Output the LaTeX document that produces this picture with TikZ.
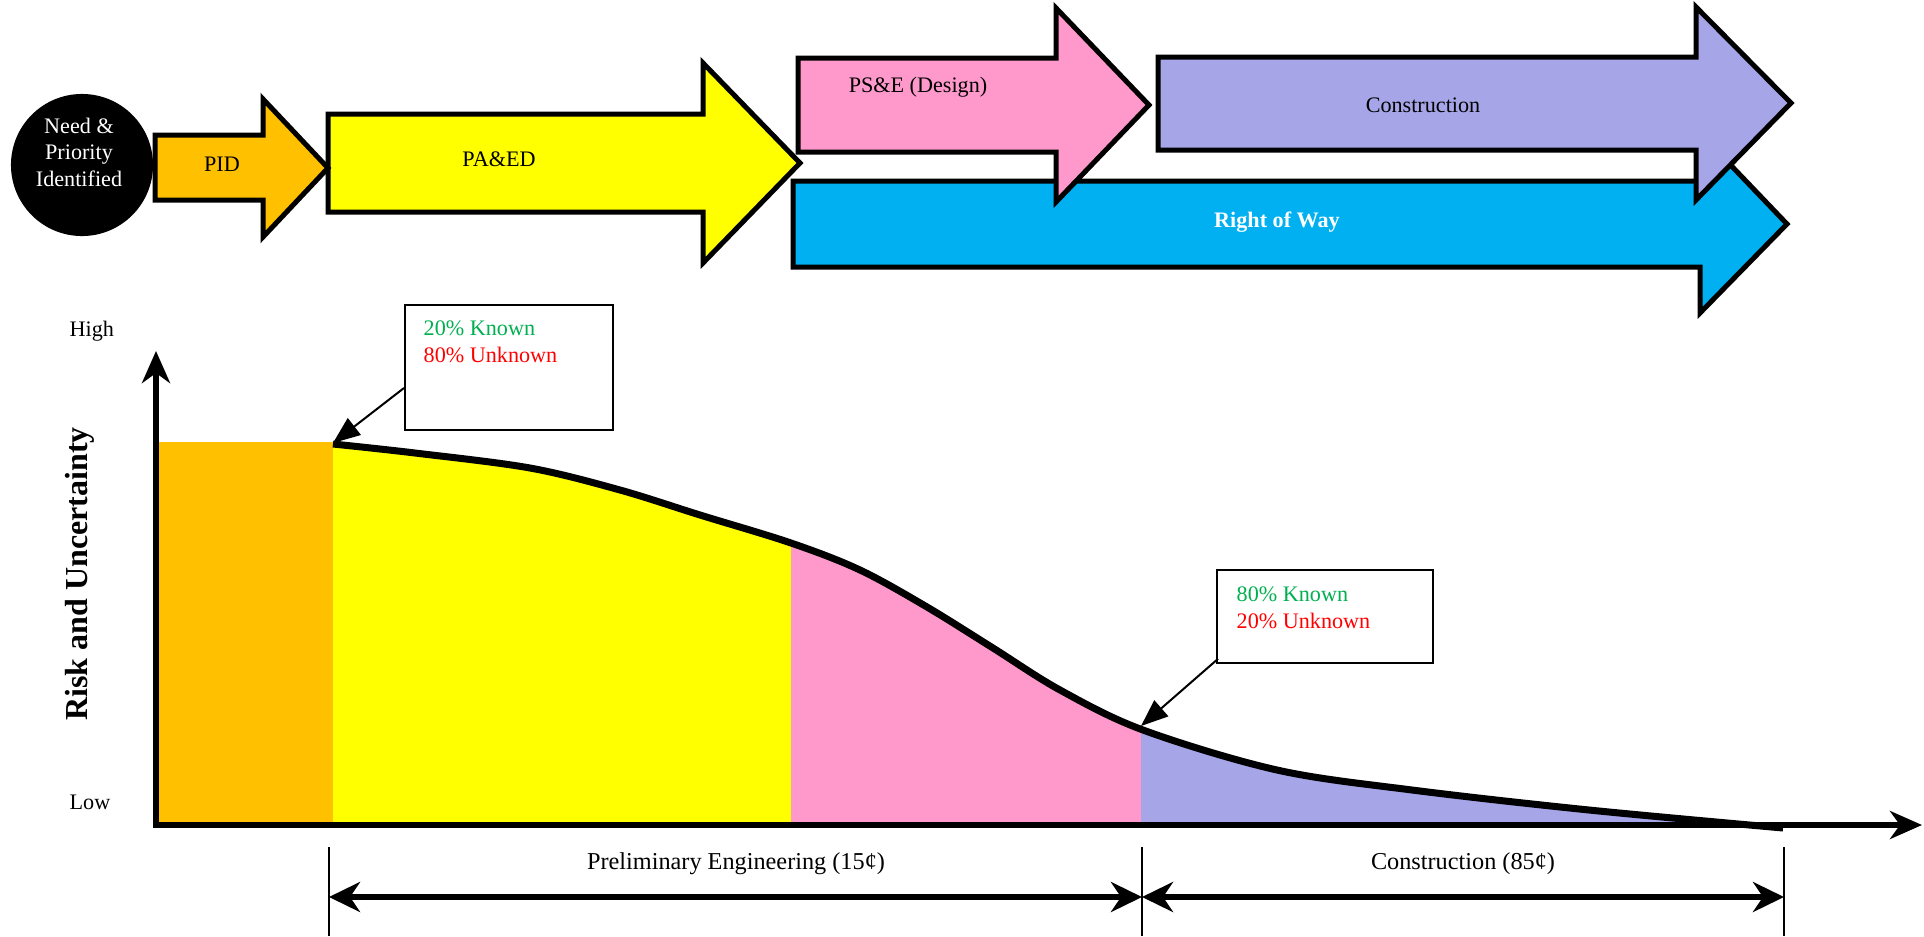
\documentclass[tikz,border=0pt]{standalone}
\usepackage{fontspec}
\setmainfont{Liberation Serif}
\usetikzlibrary{arrows.meta}
\definecolor{cPID}{HTML}{FFC000}
\definecolor{cPAED}{HTML}{FFFF00}
\definecolor{cPSE}{HTML}{FF99CC}
\definecolor{cCON}{HTML}{A5A5E8}
\definecolor{cROW}{HTML}{00B0F0}
\definecolor{cGreen}{HTML}{00B050}
\definecolor{cRed}{HTML}{FF0000}
\begin{document}
\begin{tikzpicture}[x=0.01cm,y=-0.01cm,
  stagearrow/.style={draw=black, line width=0.05cm, line join=miter, miter limit=10},
  lbl/.style={font=\fontsize{6.3}{7.5}\selectfont, inner sep=0pt},
  dimlbl/.style={font=\fontsize{6.9}{8}\selectfont, inner sep=0pt},
  callout/.style={draw=black, line width=0.018cm, fill=white, inner sep=0pt},
  pointer/.style={draw=black, line width=0.02cm, -{Triangle[length=0.27cm,width=0.21cm]}},
  axisline/.style={line width=0.055cm, -{Stealth[length=0.32cm,width=0.28cm,inset=0.1cm]}},
  dimline/.style={line width=0.055cm, {Stealth[length=0.31cm,width=0.3cm,inset=0.1cm]}-{Stealth[length=0.31cm,width=0.3cm,inset=0.1cm]}},
  tick/.style={line width=0.018cm},
  riskcurve/.style={smooth, tension=0.55}]
\useasboundingbox (0,0) rectangle (1924,936);

% ---- process arrows ----
% Right of Way
\draw[stagearrow, fill=cROW] (793,181) -- (1700,181) -- (1700,133) -- (1787,224) -- (1700,313) -- (1700,267) -- (793,267) -- cycle;
% PS&E
\draw[stagearrow, fill=cPSE] (798,58) -- (1056,58) -- (1056,8) -- (1149,105) -- (1056,202) -- (1056,152) -- (798,152) -- cycle;
% Construction
\draw[stagearrow, fill=cCON] (1158,57) -- (1696,57) -- (1696,7) -- (1791,103) -- (1696,200) -- (1696,150) -- (1158,150) -- cycle;
% PA&ED
\draw[stagearrow, fill=cPAED] (328,114) -- (703,114) -- (703,63) -- (800,163) -- (703,263) -- (703,212) -- (328,212) -- cycle;
% PID
\draw[stagearrow, fill=cPID] (155,135) -- (263,135) -- (263,99) -- (328,168) -- (263,237) -- (263,200) -- (155,200) -- cycle;

\node[circle, fill=black, minimum size=1.42cm, inner sep=0pt] (need) at (82,165) {};
\node[lbl, text=white, align=center, font=\fontsize{6.3}{7.55}\selectfont] (needtxt) at (79,152) {Need \&\\Priority\\Identified};
\node[lbl] (pidtxt) at (222,164) {PID};
\node[lbl] (paedtxt) at (499,159) {PA\&ED};
\node[lbl] (psetxt) at (918,87) {PS\&E (Design)};
\node[lbl] (contxt) at (1423,105) {Construction};
\node[lbl, text=white, font=\bfseries\fontsize{6.3}{7.5}\selectfont] (rowtxt) at (1277,222) {Right of Way};

% ---- chart fills ----
\def\riskpts{(333,444) (415,453) (530,468) (620,490) (700,515) (791,543) (860,570) (927,607) (993,648) (1060,690) (1143,730) (1277,770) (1412,790) (1589,810) (1783,828)}
\fill[cPID] (156,442) rectangle (333,825);
\begin{scope}
\clip (333,825) -- (333,444) -- plot[riskcurve] coordinates {\riskpts} -- (1783,826) -- cycle;
\fill[cPAED] (332,300) rectangle (791,826);
\fill[cPSE] (791,300) rectangle (1141,826);
\fill[cCON] (1141,300) rectangle (1790,826);
\end{scope}
\draw[line width=0.07cm] plot[riskcurve] coordinates {\riskpts};
\coordinate (peak) at (333,443);
\coordinate (knee) at (1141,726);

% ---- axes ----
\coordinate (origin) at (156,825);
\coordinate (ytop) at (156,351);
\coordinate (xend) at (1922,825);
\draw[axisline] ([yshift=-0.027cm]origin) -- (ytop);
\draw[axisline] ([xshift=-0.027cm]origin) -- (xend);

\node[lbl, anchor=west] (high) at (69,331) {High};
\node[lbl, anchor=west] (low) at (69,802) {Low};
\node[inner sep=0pt, rotate=90, font=\bfseries\fontsize{9.1}{10}\selectfont] (ylabel) at (80,574) {Risk and Uncertainty};

% ---- callouts ----
\node[callout, minimum width=2.08cm, minimum height=1.25cm, anchor=north west] (box1) at (404,304) {};
\node[lbl, anchor=west, text=cGreen] (k1) at (423,328) {20\% Known};
\node[lbl, anchor=west, text=cRed] (u1) at (423,355) {80\% Unknown};
\draw[pointer] (box1.west |- 0,388) -- (peak);

\node[callout, minimum width=2.16cm, minimum height=0.93cm, anchor=north west] (box2) at (1216,569) {};
\node[lbl, anchor=west, text=cGreen] (k2) at (1236,594) {80\% Known};
\node[lbl, anchor=west, text=cRed] (u2) at (1236,621) {20\% Unknown};
\draw[pointer] (box2.south west) ++(0.02cm,0.05cm) coordinate (b2s) -- (knee);

% ---- dimension lines ----
\coordinate (d1) at (329,847);
\coordinate (d2) at (1142,847);
\coordinate (d3) at (1784,847);
\coordinate (d1b) at (329,936);
\coordinate (d2b) at (1142,936);
\coordinate (d3b) at (1784,936);
\draw[tick] (d1) -- (d1b);
\draw[tick] (d2) -- (d2b);
\draw[tick] (d3) -- (d3b);
\coordinate (a1) at (329,897);
\coordinate (a2) at (1142,897);
\coordinate (a3) at (1784,897);
\draw[dimline] (a1) -- (a2);
\draw[dimline] (a2) -- (a3);
\node[dimlbl] (pelbl) at (736,864) {Preliminary Engineering (15¢)};
\node[dimlbl] (conlbl) at (1463,864) {Construction (85¢)};
\end{tikzpicture}
\end{document}
